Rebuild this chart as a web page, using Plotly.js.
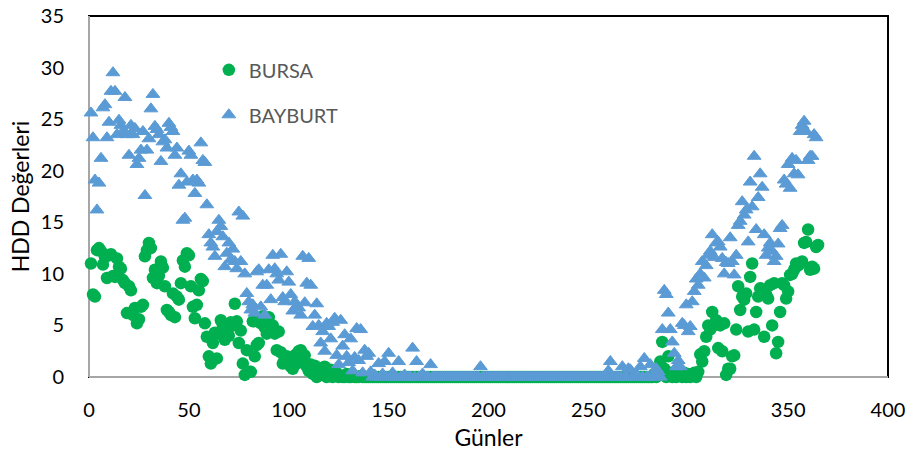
<!DOCTYPE html>
<html>
<head>
<meta charset="utf-8">
<script src="https://cdn.plot.ly/plotly-3.0.1.min.js"></script>
<style>
  html, body { margin: 0; padding: 0; background: #ffffff; }
  #chart { width: 909px; height: 455px; }
</style>
</head>
<body>
<div id="chart"></div>
<script>
// Daily heating degree-day (HDD) values, day 1 .. 365
const days = Array.from({ length: 365 }, (_, i) => i + 1);

const zeros = n => new Array(n).fill(0);

// BURSA HDD by day
const bursaHDD = [].concat(
  [11.0, 8.0, 7.8, 12.3, 12.5, 12.2, 10.9, 11.6, 9.6, 11.8],
  [11.9, 9.8, 9.7, 11.5, 10.7, 10.5, 9.4, 9.1, 6.2, 8.8],
  [8.4, 6.0, 6.7, 5.2, 5.6, 6.8, 7.0, 11.7, 12.3, 13.0],
  [12.5, 9.6, 10.4, 9.1, 9.8, 11.2, 10.6, 8.8, 6.5, 6.3],
  [6.0, 8.1, 5.8, 7.8, 7.5, 9.1, 11.3, 10.7, 12.0, 11.8],
  [8.8, 6.8, 5.7, 7.0, 8.4, 9.5, 9.3, 5.2, 3.9, 2.0],
  [1.3, 3.3, 4.3, 1.8, 4.2, 5.5, 5.0, 3.6, 4.6, 4.0],
  [5.3, 5.0, 7.1, 5.4, 3.3, 4.5, 1.3, 0.2, 2.6, 0.5],
  [0.5, 5.4, 2.0, 3.1, 3.3, 5.2, 5.9, 4.8, 4.2, 5.8],
  [4.6, 5.0, 4.2, 2.6, 4.4, 2.4, 1.3, 1.8, 2.0, 1.5],
  [1.0, 0.8, 2.1, 1.3, 2.5, 2.6, 1.6, 2.1, 1.0, 0.6],
  [1.2, 0.3, 1.1, 0.0, 0.5, 0.2, 0.9, 1.0, 0.0, 0.3],
  [0.7, 0.0, 0.2, 0.4, 0.0, 0.1, 0.0, 0.0, 0.3, 0.0],
  [0.0, 0.2, 0.0, 0.0, 0.0, 0.1, 0.0, 0.0, 0.0, 0.0],
  zeros(140),
  [0.0, 0.0, 0.3, 0.0, 0.5, 1.5, 3.4, 0.8, 0.0, 2.0],
  [0.4, 0.0, 0.3, 0.0, 0.2, 0.5, 0.0, 0.4, 0.0, 0.3],
  [0.0, 0.2, 0.4, 0.0, 0.5, 2.2, 1.5, 2.5, 3.9, 5.0],
  [4.6, 6.3, 5.0, 5.5, 2.8, 5.0, 2.5, 5.2, 0.2, 0.8],
  [0.8, 2.0, 2.1, 4.6, 8.8, 6.5, 7.8, 7.5, 8.1, 4.4],
  [9.7, 11.0, 4.6, 6.3, 7.8, 8.6, 8.1, 3.9, 8.0, 7.6],
  [8.9, 5.0, 9.1, 2.3, 3.4, 6.3, 9.1, 8.9, 7.6, 8.3],
  [9.9, 10.0, 10.4, 11.0, 10.8, 11.0, 11.2, 13.0, 13.1, 14.3],
  [10.4, 10.7, 10.5, 12.6, 12.8]
);

// BAYBURT HDD by day
const bayburtHDD = [].concat(
  [25.6, 23.2, 19.1, 16.2, 18.8, 21.2, 26.1, 26.4, 23.2, 24.7],
  [27.7, 29.5, 27.7, 23.5, 24.9, 24.4, 23.8, 27.1, 23.5, 21.5],
  [24.4, 23.5, 24.1, 20.6, 21.2, 22.0, 23.8, 17.6, 22.0, 23.1],
  [26.0, 27.4, 24.3, 24.0, 23.5, 20.9, 22.8, 23.0, 22.2, 24.6],
  [24.2, 23.8, 21.5, 22.2, 18.6, 19.7, 15.2, 15.4, 18.9, 21.9],
  [21.5, 19.1, 17.8, 19.1, 18.8, 22.7, 21.0, 20.8, 16.7, 13.8],
  [13.0, 12.6, 11.7, 14.1, 15.2, 14.6, 13.6, 10.7, 12.0, 13.0],
  [11.4, 12.4, 11.2, 10.5, 16.0, 11.2, 15.6, 10.0, 8.1, 7.3],
  [6.5, 7.0, 6.2, 10.2, 10.4, 6.8, 8.9, 6.0, 8.9, 10.4],
  [7.5, 11.8, 10.5, 10.0, 9.4, 11.9, 7.7, 7.3, 10.2, 9.2],
  [8.0, 6.4, 7.3, 6.9, 6.7, 6.0, 11.7, 7.2, 9.1, 11.5],
  [8.9, 4.9, 6.0, 7.1, 5.0, 3.3, 4.4, 2.5, 5.2, 4.9],
  [3.7, 5.3, 5.7, 2.1, 1.2, 5.5, 3.0, 4.1, 2.0, 1.4],
  [3.7, 0.6, 1.9, 4.7, 1.6, 4.6, 0.4, 2.6, 2.0, 2.3],
  [0.5, 0.0, 0.2, 0.0, 1.3, 0.0, 0.3, 1.5, 0.0, 2.3],
  [0.0, 0.4, 0.0, 0.0, 1.5, 0.0, 0.0, 0.2, 0.0, 0.0],
  [0.0, 2.8, 0.0, 1.5, 0.0, 0.0, 0.3, 0.0, 0.0, 0.0],
  [1.2, 0.0, 0.0, 0.0, 0.0, 0.0, 0.0, 0.0, 0.0, 0.0],
  zeros(15), [1.0], zeros(63),
  [0.6, 1.5, 0.0, 0.0, 0.0, 0.0, 0.0, 1.0, 0.0, 0.0],
  [0.8, 0.7, 0.0, 0.0, 0.3, 0.0, 1.0, 0.0, 1.8, 0.0],
  [0.0, 1.2, 0.0, 0.0, 0.8, 0.5, 0.0, 4.6, 8.4, 8.0],
  [6.2, 4.6, 3.4, 2.3, 1.0, 1.6, 1.0, 5.2, 5.0, 7.0],
  [4.4, 4.9, 7.3, 8.3, 9.5, 8.9, 10.0, 11.2, 9.6, 10.8],
  [11.8, 12.2, 13.8, 11.6, 13.0, 13.1, 12.6, 11.5, 10.0, 11.1],
  [11.0, 13.5, 11.2, 9.9, 11.8, 14.7, 15.1, 17.0, 15.7, 16.2],
  [13.1, 18.9, 16.5, 21.4, 14.3, 17.4, 19.7, 18.4, 13.8, 11.8],
  [12.5, 13.0, 12.2, 11.2, 11.7, 12.9, 14.4, 14.7, 19.1, 18.7],
  [20.6, 18.3, 21.2, 19.7, 21.0, 19.6, 23.8, 24.4, 24.8, 23.8],
  [21.0, 21.4, 21.4, 23.5, 23.2]
);

const xTicks = [0, 50, 100, 150, 200, 250, 300, 350, 400];
const yTicks = [0, 5, 10, 15, 20, 25, 30, 35];

const FONT = 'Lato, "Open Sans", sans-serif';

const traces = [
  {
    type: 'scatter', mode: 'markers', name: 'BURSA', legendgroup: 'a',
    x: days, y: bursaHDD, cliponaxis: false,
    marker: { symbol: 'circle', size: 12.5, color: '#00B050', line: { width: 0 } }
  },
  {
    type: 'scatter', mode: 'markers', name: 'BAYBURT', legendgroup: 'b',
    x: days, y: bayburtHDD, cliponaxis: false,
    marker: { symbol: 'triangle-up', size: 12, color: '#5B9BD5',
              line: { width: 1, color: '#5B9BD5' } }
  }
];

const layout = {
  width: 909, height: 455,
  margin: { l: 89, r: 21, t: 16, b: 78 },
  paper_bgcolor: '#ffffff', plot_bgcolor: '#ffffff',
  font: { family: FONT, color: '#000000', size: 20 },
  showlegend: true,
  legend: {
    x: 0.15, y: 0.905, xanchor: 'left', yanchor: 'top',
    bgcolor: 'rgba(0,0,0,0)', borderwidth: 0,
    font: { family: FONT, size: 20, color: '#595959' },
    tracegroupgap: 16
  },
  xaxis: {
    range: [0, 400], tickmode: 'array', tickvals: xTicks,
    showgrid: false, zeroline: false, showline: false,
    ticks: 'outside', ticklen: 15, tickcolor: 'rgba(0,0,0,0)',
    tickfont: { size: 20 },
    title: { text: 'Günler', font: { size: 23 }, standoff: 9 },
    layer: 'below traces'
  },
  yaxis: {
    range: [0, 35], tickmode: 'array', tickvals: yTicks,
    showgrid: false, zeroline: false, showline: false,
    ticks: 'outside', ticklen: 20, tickcolor: 'rgba(0,0,0,0)',
    tickfont: { size: 20 },
    title: { text: 'HDD Değerleri', font: { size: 23 }, standoff: 4 },
    layer: 'below traces'
  },
  shapes: [
    // plot-area frame
    { type: 'rect', xref: 'paper', yref: 'paper', x0: 0, x1: 1, y0: 0, y1: 1,
      line: { color: '#000000', width: 2 }, layer: 'below' },
    // grey value and category axis lines
    { type: 'line', xref: 'paper', yref: 'paper', x0: 0, x1: 0, y0: 0, y1: 1,
      line: { color: '#A6A6A6', width: 2 }, layer: 'below' },
    { type: 'line', xref: 'paper', yref: 'paper', x0: 0, x1: 1, y0: 0, y1: 0,
      line: { color: '#A6A6A6', width: 2 }, layer: 'below' }
  ]
};

Plotly.newPlot('chart', traces, layout, { displayModeBar: false, staticPlot: true });
</script>
</body>
</html>
